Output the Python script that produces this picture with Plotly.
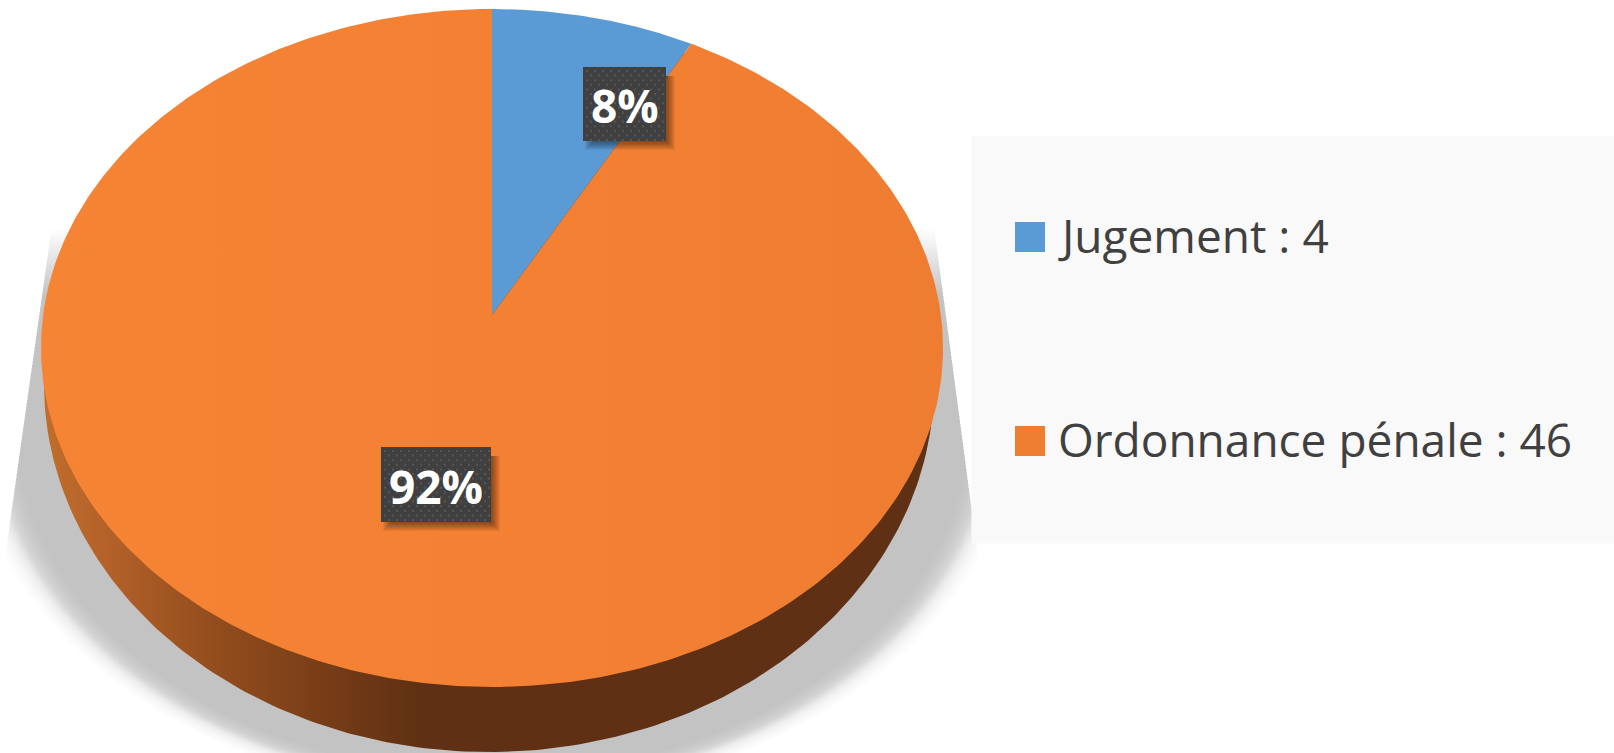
import numpy as np
import plotly.graph_objects as go

categories = ["Jugement", "Ordonnance pénale"]
values = [4, 46]
percent_labels = ["8%", "92%"]
colors = ["#5b9bd5", "#ed7d31"]
legend_labels = ["Jugement : 4", "Ordonnance pénale : 46"]

W, H = 1614, 753
FONT = "Open Sans"

# perspective of the pie disk
APEX_X, APEX_Y = 492.0, 315.0
PERSP = 0.0973
AX, BY = 448.9, 335.8


def disk(t):
    d = 1 + PERSP * np.cos(t)
    return APEX_X + AX * np.sin(t) / d, APEX_Y - BY * np.cos(t) / d


def ring(cx, cy, rx, ry, n=360):
    t = np.linspace(0, 2 * np.pi, n)
    return cx + rx * np.cos(t), cy + ry * np.sin(t)


fig = go.Figure()


def poly(x, y, color=None, grad=None):
    kw = dict(fillgradient=grad) if grad else dict(fillcolor=color)
    fig.add_trace(go.Scatter(x=list(x), y=list(y), mode="lines", fill="toself",
                             line=dict(width=0), hoverinfo="skip",
                             showlegend=False, **kw))


# soft shadow, stacked translucent layers
N = 30
for i in range(N):
    q = (i + 0.5) / N                      # 0 = outermost, 1 = innermost
    u = 2 * q - 1
    s = 0.5 + 0.5 * (0.45 * u + 0.55 * u ** 3)   # layers gather in mid-fade
    rx = 524 - 46 * s
    ry = 380 - 26 * s
    x, y = ring(492, 420, rx, ry)
    top = 228 + 68 * q
    y = np.maximum(y, top)
    left = 43 - (y - 287) * 33 / 233
    right = 937 + (y - 247) * 35 / 263
    x = np.clip(x, left, right)
    poly(x, y, color=f"rgba(0,0,0,{0.2 / N * 1.12:.4f})")

# side wall
x, y = ring(489, 384, 445, 368)
poly(x, y, grad=dict(type="horizontal", start=40, stop=943, colorscale=[
    [0, "#c06e2c"], [0.07, "#b5622a"], [0.18, "#964f1e"], [0.30, "#7b3f18"],
    [0.42, "#5f3013"], [1, "#5f3013"]]))

# top face slices, from the values
fractions = np.array(values, dtype=float) / sum(values)
edges = np.concatenate([[0], np.cumsum(fractions)]) * 2 * np.pi
top_grads = [None,
             dict(type="horizontal", start=41, stop=943,
                  colorscale=[[0, "#f68435"], [0.55, "#f38033"], [1, "#ef7d31"]])]
for k in range(len(values)):
    t = np.linspace(edges[k], edges[k + 1], 400)
    xs, ys = disk(t)
    xs = np.concatenate([[APEX_X], xs, [APEX_X]])
    ys = np.concatenate([[APEX_Y], ys, [APEX_Y]])
    poly(xs, ys, color=colors[k], grad=top_grads[k])

# legend panel
poly([971.5, W, W, 971.5, 971.5], [136, 136, 543.5, 543.5, 136], color="#f9f9f9")

# data label boxes
boxes = [(583, 666, 67, 141), (381, 491, 447, 522)]
for (x0, x1, y0, y1), lab in zip(boxes, percent_labels):
    for g in range(9):
        o = g + 1
        xl = x0 + 11 - o
        poly([xl, x1 + o, x1 + o, xl, xl],
             [y0 + 9, y0 + 9, y1 + o, y1 + o, y0 + 9], color="rgba(0,0,0,0.055)")
    poly([x0, x1, x1, x0, x0], [y0, y0, y1, y1, y0], color="#404040")
    px, py = [], []
    row = 0
    yy = y0 + 4
    while yy < y1 - 1:
        xx = x0 + 4 + (4 if row % 2 else 0)
        while xx < x1 - 1:
            px.append(xx)
            py.append(yy)
            xx += 8
        yy += 4.6
        row += 1
    fig.add_trace(go.Scatter(x=px, y=py, mode="markers", hoverinfo="skip", showlegend=False,
                             marker=dict(symbol="square", size=2, color="#565656",
                                         line=dict(width=0))))
    fig.add_annotation(x=(x0 + x1) / 2, y=(y0 + y1) / 2 + 1, text=lab, showarrow=False,
                       font=dict(family=FONT, size=46, color="white", weight="bold"),
                       xanchor="center", yanchor="middle")

# legend
leg_y = [237, 441]
fig.add_trace(go.Scatter(x=[1030, 1030], y=leg_y, mode="markers", hoverinfo="skip", showlegend=False,
                         marker=dict(symbol="square", size=30, color=colors, line=dict(width=0))))
for yy, lab in zip(leg_y, legend_labels):
    fig.add_annotation(x=1056, y=yy - 2, text=lab, showarrow=False, xanchor="left", yanchor="middle",
                       font=dict(family=FONT, size=46, color="#404040"))

fig.update_xaxes(range=[0, W], visible=False, fixedrange=True)
fig.update_yaxes(range=[H, 0], visible=False, fixedrange=True)
fig.update_layout(width=W, height=H, margin=dict(l=0, r=0, t=0, b=0),
                  paper_bgcolor="white", plot_bgcolor="white", showlegend=False)
fig.write_html("out.html", config=dict(displayModeBar=False),
               post_script="document.body.style.margin='0';document.documentElement.style.overflow='hidden';")
